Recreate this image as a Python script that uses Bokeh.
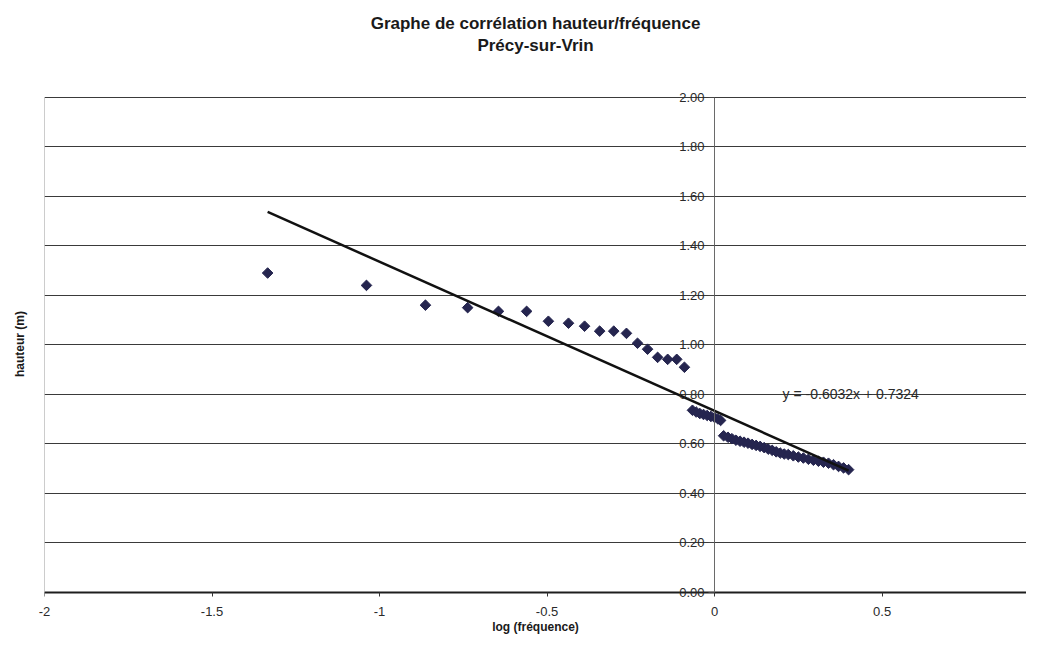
import math
from bokeh.plotting import figure
from bokeh.models import (Label, Title, FixedTicker, PrintfTickFormatter,
                          LinearAxis)
from bokeh.embed import file_html
from bokeh.resources import INLINE

# ---------------- data ----------------
title_line1 = "Graphe de corrélation hauteur/fréquence"
title_line2 = "Précy-sur-Vrin"
x_axis_title = "log (fréquence)"
y_axis_title = "hauteur (m)"

log_freq = [
    -1.334, -1.039, -0.863, -0.737, -0.645, -0.561, -0.496, -0.436, -0.388,
    -0.343, -0.301, -0.263, -0.230, -0.200, -0.170, -0.140, -0.113, -0.090,
    -0.066, -0.055, -0.044, -0.033, -0.022, -0.011, 0.000, 0.010, 0.018,
    0.027, 0.040, 0.052, 0.064, 0.076, 0.088, 0.100, 0.112, 0.124, 0.136,
    0.148, 0.160, 0.172, 0.184, 0.196, 0.208, 0.220, 0.235, 0.250, 0.265,
    0.280, 0.295, 0.310, 0.325, 0.340, 0.355, 0.370, 0.385, 0.400,
]
hauteur = [
    1.290, 1.240, 1.160, 1.150, 1.135, 1.135, 1.095, 1.087, 1.075,
    1.055, 1.055, 1.046, 1.006, 0.982, 0.949, 0.941, 0.941, 0.909,
    0.735, 0.728, 0.722, 0.718, 0.714, 0.710, 0.706, 0.700, 0.694,
    0.632, 0.626, 0.620, 0.614, 0.610, 0.606, 0.602, 0.597, 0.593, 0.589,
    0.584, 0.578, 0.573, 0.567, 0.562, 0.558, 0.556, 0.551, 0.546, 0.542,
    0.537, 0.533, 0.529, 0.525, 0.521, 0.515, 0.508, 0.502, 0.495,
]

trend_slope = -0.6032
trend_intercept = 0.7324

x_tick_labels = ["-2", "-1.5", "-1", "-0.5", "0", "0.5"]
y_tick_labels = ["0.00", "0.20", "0.40", "0.60", "0.80", "1.00",
                 "1.20", "1.40", "1.60", "1.80", "2.00"]

# ---------------- figure ----------------
FONT = "Liberation Sans"
x_ticks = [float(s) for s in x_tick_labels]
y_ticks = [float(s) for s in y_tick_labels]
PAD_TOP = 0.032      # small room so the 2.00 label is not cut
PAD_BOTTOM = 0.026   # same for the 0.00 label

p = figure(width=1026, height=636, x_range=(x_ticks[0], 0.931),
           y_range=(y_ticks[0] - PAD_BOTTOM, y_ticks[-1] + PAD_TOP),
           output_backend="svg", toolbar_location=None,
           min_border_left=44, min_border_right=0, min_border_top=89,
           min_border_bottom=38)
p.background_fill_color = "white"
p.border_fill_color = "white"
p.outline_line_color = None

# titles: spacer nearest the frame, then line 2, then line 1
p.add_layout(Title(text=" ", text_font_size="1px", standoff=32), "above")
p.add_layout(Title(text=title_line2, align="center", text_font=FONT,
                   text_font_size="17px", text_font_style="bold",
                   text_color="#1a1a1a", standoff=0), "above")
p.add_layout(Title(text=title_line1, align="center", text_font=FONT,
                   text_font_size="17px", text_font_style="bold",
                   text_color="#1a1a1a", standoff=2), "above")

# bottom axis: labels + title only
xa = p.xaxis[0]
xa.ticker = FixedTicker(ticks=x_ticks)
xa.formatter = PrintfTickFormatter(format="%g")
xa.major_label_overrides = {t: s for t, s in zip(x_ticks, x_tick_labels)}
xa.minor_tick_line_color = None
xa.major_tick_line_color = None
xa.major_tick_in = 0
xa.major_tick_out = 0
xa.axis_line_color = None
xa.major_label_standoff = 8
xa.major_label_text_font = FONT
xa.major_label_text_font_size = "13px"
xa.major_label_text_color = "#2a2a2a"
xa.axis_label = x_axis_title
xa.axis_label_text_font = FONT
xa.axis_label_text_font_size = "12px"
xa.axis_label_text_font_style = "bold"
xa.axis_label_text_color = "#1a1a1a"
xa.axis_label_standoff = 1

# category axis line drawn at y = 0 with its tick marks
x0ax = LinearAxis(fixed_location=0, ticker=FixedTicker(ticks=x_ticks))
x0ax.axis_line_color = "#1e1e1e"
x0ax.axis_line_width = 2
x0ax.major_tick_out = 4
x0ax.major_tick_in = 0
x0ax.major_tick_line_color = "#333333"
x0ax.minor_tick_line_color = None
x0ax.major_label_text_font_size = "0px"
x0ax.major_label_text_color = None
p.add_layout(x0ax, "below")

# left axis: only carries the title
ya = p.yaxis[0]
ya.ticker = FixedTicker(ticks=[])
ya.axis_line_color = None
ya.major_tick_line_color = None
ya.minor_tick_line_color = None
ya.major_tick_out = 0
ya.major_tick_in = 0
ya.major_label_standoff = 0
ya.major_label_text_font_size = "0px"
ya.axis_label = y_axis_title
ya.axis_label_text_font = FONT
ya.axis_label_text_font_size = "12px"
ya.axis_label_text_font_style = "bold"
ya.axis_label_text_color = "#1a1a1a"
ya.axis_label_standoff = 18

# value axis drawn at x = 0 (Excel style)
y0 = LinearAxis(fixed_location=0, ticker=FixedTicker(ticks=y_ticks),
                formatter=PrintfTickFormatter(format="%.2f"),
                bounds=(y_ticks[0], y_ticks[-1]))
y0.major_label_overrides = {t: s for t, s in zip(y_ticks, y_tick_labels)}
y0.axis_line_color = "#6a6a6a"
y0.axis_line_width = 1
y0.major_tick_out = 6
y0.major_tick_in = 0
y0.major_tick_line_color = "#444444"
y0.minor_tick_line_color = None
y0.major_label_standoff = 4
y0.major_label_text_font = FONT
y0.major_label_text_font_size = "13px"
y0.major_label_text_color = "#2a2a2a"
p.add_layout(y0, "left")

# grids
p.xgrid.visible = False
p.ygrid[0].ticker = FixedTicker(ticks=y_ticks)
p.ygrid.grid_line_color = "#3a3a3a"
p.ygrid.grid_line_width = 1

# left border of the plot area
p.segment(x0=[x_ticks[0]], y0=[y_ticks[0]], x1=[x_ticks[0]], y1=[y_ticks[-1]],
          line_color="#9a9a9a", line_width=1)

# data points (diamonds)
p.scatter(log_freq, hauteur, marker="square", angle=math.pi / 4, size=7.5,
          fill_color="#25254f", line_color="#25254f")

# trend line
xa0, xa1 = min(log_freq), max(log_freq)
p.line([xa0, xa1], [trend_slope * xa0 + trend_intercept,
                    trend_slope * xa1 + trend_intercept],
       line_color="#111111", line_width=2.5)

eq = f"y = {trend_slope:.4f}x + {trend_intercept:.4f}"
p.add_layout(Label(x=0.203, y=0.80, text=eq, text_align="left",
                   text_baseline="middle", text_font=FONT,
                   text_font_size="14px", text_color="#2a2a2a"))

open("out.html", "w").write(file_html(p, INLINE))
